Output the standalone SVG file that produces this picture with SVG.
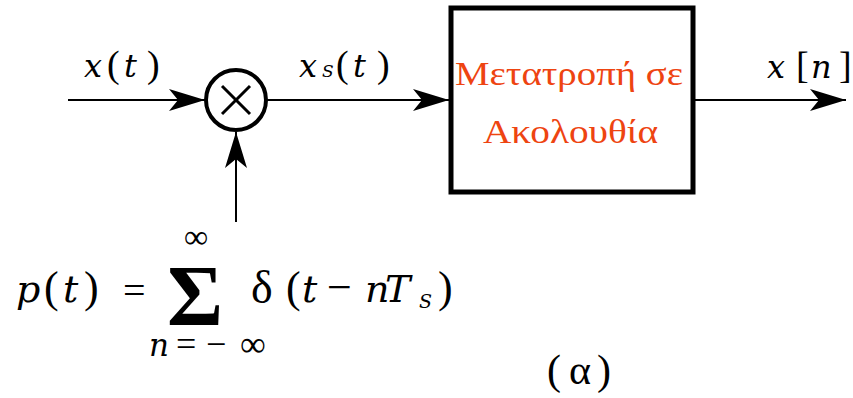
<svg xmlns="http://www.w3.org/2000/svg" width="853" height="398" viewBox="0 0 853 398">
<style>
.m{font-family:"DejaVu Serif","Liberation Serif",serif;font-style:italic;fill:#000}
.r{font-family:"Liberation Serif","DejaVu Serif",serif;fill:#000;font-style:normal}
.g{font-family:"Liberation Serif","DejaVu Serif",serif;fill:#ee4411}
.ln{stroke:#000;stroke-width:2;fill:none}
</style>
<defs>
<marker id="ah" markerUnits="userSpaceOnUse" markerWidth="38" markerHeight="22" refX="36" refY="11" orient="auto">
<path d="M0,0 L36,11 L0,22 L9,11 z" fill="#000"/>
</marker>
</defs>
<rect width="853" height="398" fill="#fff"/>
<g id="connectors">
<line class="ln" x1="68" y1="100" x2="205" y2="100" marker-end="url(#ah)"/>
<line class="ln" x1="267" y1="100" x2="449" y2="100" marker-end="url(#ah)"/>
<line class="ln" x1="695" y1="100" x2="846" y2="100" marker-end="url(#ah)"/>
<line class="ln" x1="236" y1="222" x2="236" y2="132" marker-end="url(#ah)"/>
</g>
<g id="multiplier">
<circle cx="236" cy="100" r="30" fill="#fff" stroke="#000" stroke-width="4"/>
<line x1="222" y1="86" x2="250" y2="114" stroke="#000" stroke-width="3"/>
<line x1="250" y1="86" x2="222" y2="114" stroke="#000" stroke-width="3"/>
</g>
<g id="converter">
<rect x="451" y="8" width="242" height="184" fill="#fff" stroke="#000" stroke-width="5"/>
<text class="g" x="455" y="85" font-size="34" textLength="228" lengthAdjust="spacingAndGlyphs">Μετατροπή σε</text>
<text class="g" x="483" y="143" font-size="34" textLength="175" lengthAdjust="spacingAndGlyphs">Ακολουθία</text>
</g>
<g id="labels">
<text class="m" y="77" font-size="32"><tspan x="84">x</tspan><tspan class="r" font-size="38" x="107">(</tspan><tspan x="124">t</tspan><tspan class="r" font-size="38" x="147">)</tspan></text>
<text class="m" y="77" font-size="32"><tspan x="299">x</tspan><tspan font-size="17" x="322">S</tspan><tspan class="r" font-size="38" x="336">(</tspan><tspan x="353">t</tspan><tspan class="r" font-size="38" x="377">)</tspan></text>
<text class="m" y="78" font-size="32"><tspan x="767">x</tspan><tspan class="r" font-size="38" x="796">[</tspan><tspan x="811">n</tspan><tspan class="r" font-size="38" x="839">]</tspan></text>
</g>
<g id="formula">
<text class="m" y="302" font-size="38"><tspan x="16">p</tspan><tspan class="r" font-size="44" x="44">(</tspan><tspan x="63">t</tspan><tspan class="r" font-size="44" x="84">)</tspan></text>
<text class="r" x="123" y="304" font-size="40">=</text>
<text class="r" x="195" y="325" font-size="86" font-weight="bold" text-anchor="middle" textLength="56" lengthAdjust="spacingAndGlyphs">Σ</text>
<text class="r" x="196" y="248" font-size="34" text-anchor="middle">∞</text>
<text class="r" x="251" y="303" font-size="46">δ</text>
<text class="m" y="302" font-size="38"><tspan class="r" font-size="44" x="286">(</tspan><tspan x="302">t</tspan><tspan class="r" font-size="44" x="327">−</tspan><tspan x="365">n</tspan><tspan x="385">T</tspan><tspan font-size="19" x="419" dy="6">S</tspan><tspan class="r" font-size="44" x="438" dy="-6">)</tspan></text>
<text class="m" y="356" font-size="31"><tspan x="149">n</tspan><tspan class="r" font-size="36" x="176">=</tspan><tspan class="r" font-size="36" x="206">−</tspan><tspan class="r" font-size="36" x="240">∞</tspan></text>
<text class="r" y="384" font-size="42"><tspan x="547">(</tspan><tspan x="569">α</tspan><tspan x="597">)</tspan></text>
</g>
</svg>
